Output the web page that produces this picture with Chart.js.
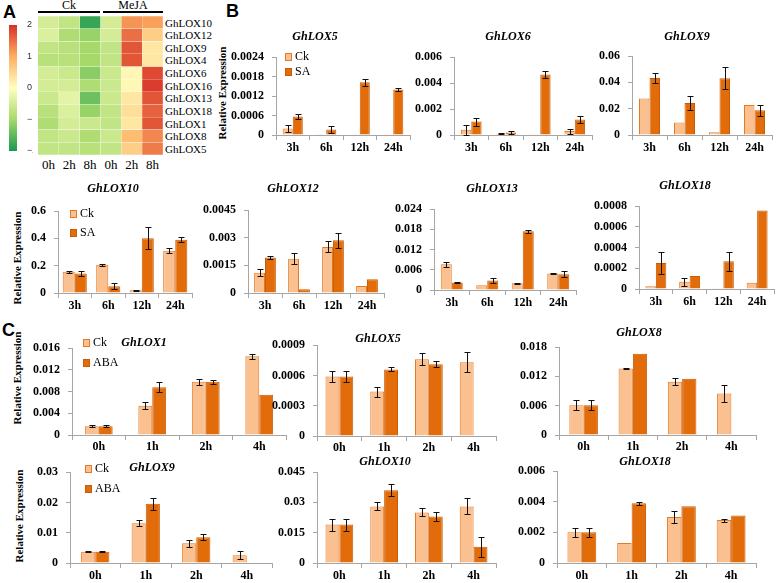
<!DOCTYPE html>
<html>
<head>
<meta charset="utf-8">
<title>GhLOX expression</title>
<script src="https://cdn.jsdelivr.net/npm/chart.js"></script>
<style>
body { margin: 0; background: #fff; }
#page { position: relative; width: 778px; height: 583px; overflow: hidden; font-family: 'Liberation Serif', 'Times New Roman', serif; color: #000; }
#page canvas { position: absolute; }
.letter { position: absolute; font-family: 'Liberation Sans', Arial, sans-serif; font-weight: bold; font-size: 18px; line-height: 18px; }
.ylab { position: absolute; font-weight: bold; font-size: 11px; white-space: nowrap; transform: translate(-50%, -50%) rotate(-90deg); }
.rowlab { position: absolute; font-size: 11px; line-height: 12px; left: 165px; }
.collab { position: absolute; font-size: 13px; transform: translateX(-50%); top: 157px; }
.grp { position: absolute; font-size: 12px; text-align: center; border-bottom: 2px solid #000; line-height: 11px; top: 0; }
</style>
</head>
<body>
<div id="page">
  <div class="letter" style="left:3px;top:3px">A</div>
  <div class="letter" style="left:226px;top:2px">B</div>
  <div class="letter" style="left:2px;top:321px">C</div>
  <div class="grp" style="left:38px;width:62px">Ck</div>
  <div class="grp" style="left:103px;width:60px">MeJA</div>
  <div class="ylab" style="left:222px;top:93px">Relative Expression</div>
  <div class="ylab" style="left:17px;top:258px">Relative Expression</div>
  <div class="ylab" style="left:17px;top:378px">Relative Expression</div>
  <div class="ylab" style="left:19px;top:516px">Relative Expression</div>
</div>
<script>
// heatmap (panel A)
const heatGenes = ['GhLOX10', 'GhLOX12', 'GhLOX9', 'GhLOX4', 'GhLOX6', 'GhLOX16', 'GhLOX13', 'GhLOX18', 'GhLOX1', 'GhLOX8', 'GhLOX5'];
const heatTimes = ['0h', '2h', '8h', '0h', '2h', '8h'];
const heatValues = [
  [-0.5, -0.7, -1.8, -0.5, 1.2, 1.1],
  [-0.4, -0.9, -1.1, -0.5, 1.5, 0.6],
  [-0.7, -0.8, -1.0, -0.7, 1.7, 0.3],
  [-0.8, -0.8, -1.0, -0.7, 1.7, 0.3],
  [-0.5, -0.6, -1.2, -0.6, 0.1, 1.8],
  [-0.5, -0.5, -0.9, -0.6, 0.1, 1.9],
  [-0.6, -0.3, -1.4, -0.6, 0.3, 1.7],
  [-0.8, -0.4, -1.1, -0.7, 0.4, 1.6],
  [-0.9, -0.5, -0.6, -0.7, 0.3, 1.7],
  [-0.7, -0.6, -0.9, -0.6, 0.8, 1.3],
  [-0.7, -0.7, -0.8, -0.7, 0.6, 1.4]
];
const colorTicks = [-2, -1, 0, 1, 2];

// panel B, SA treatment
const saTimes = ['3h', '6h', '12h', '24h'];
const sa5Ck = [0.0002, 0.00001, 0.00002, 0.00002], sa5CkErr = [0.0001, 0, 0, 0];
const sa5Sa = [0.00057, 0.00017, 0.00162, 0.0014], sa5SaErr = [0.00008, 0.00011, 0.0001, 0.00006];
const sa6Ck = [0.0004, 0.0001, 0.00002, 0.0003], sa6CkErr = [0.0004, 0.00003, 0, 0.0002];
const sa6Sa = [0.00103, 0.0002, 0.00465, 0.0012], sa6SaErr = [0.0003, 0.0001, 0.0003, 0.00025];
const sa9Ck = [0.0278, 0.0094, 0.002, 0.0228], sa9CkErr = [0, 0, 0, 0];
const sa9Sa = [0.0433, 0.0243, 0.0431, 0.0188], sa9SaErr = [0.0035, 0.005, 0.0085, 0.004];
const sa10Ck = [0.155, 0.207, 0.02, 0.31], sa10CkErr = [0.006, 0.008, 0.005, 0.018];
const sa10Sa = [0.143, 0.05, 0.4, 0.39], sa10SaErr = [0.015, 0.02, 0.08, 0.017];
const sa12Ck = [0.0011, 0.00186, 0.0025, 0.00038], sa12CkErr = [0.0002, 0.0003, 0.0003, 0];
const sa12Sa = [0.00192, 0.0002, 0.00286, 0.00074], sa12SaErr = [0.0001, 0, 0.0004, 0];
const sa13Ck = [0.0076, 0.0014, 0.002, 0.0049], sa13CkErr = [0.0008, 0, 0.0002, 0.0002];
const sa13Sa = [0.0022, 0.0028, 0.0174, 0.0047], sa13SaErr = [0.0001, 0.0007, 0.0004, 0.0008];
const sa18Ck = [0.000026, 0.00007, 0.000003, 0.00006], sa18CkErr = [0, 0.00004, 0, 0];
const sa18Sa = [0.00025, 0.000125, 0.000267, 0.000757], sa18SaErr = [0.00011, 0, 0.00009, 0];

// panel C, ABA treatment
const abaTimes = ['0h', '1h', '2h', '4h'];
const aba1Ck = [0.0016, 0.0054, 0.0098, 0.0145], aba1CkErr = [0.0002, 0.0006, 0.0005, 0.0005];
const aba1Aba = [0.0016, 0.0088, 0.0098, 0.0074], aba1AbaErr = [0.0002, 0.0009, 0.0004, 0];
const aba5Ck = [0.00059, 0.00044, 0.00076, 0.00073], aba5CkErr = [0.00005, 0.00005, 0.00006, 0.0001];
const aba5Aba = [0.00059, 0.00066, 0.00071, null], aba5AbaErr = [0.00005, 0.00002, 0.00003, 0];
const aba8Ck = [0.0061, 0.0136, 0.0109, 0.0085], aba8CkErr = [0.001, 0.0002, 0.0007, 0.0018];
const aba8Aba = [0.0061, 0.0166, 0.0115, null], aba8AbaErr = [0.001, 0, 0, 0];
const aba9Ck = [0.0037, 0.0131, 0.0065, 0.0026], aba9CkErr = [0.0001, 0.001, 0.0012, 0.0013];
const aba9Aba = [0.0037, 0.0196, 0.0085, null], aba9AbaErr = [0.0001, 0.002, 0.001, 0];
const aba10Ck = [0.019, 0.028, 0.025, 0.028], aba10CkErr = [0.003, 0.002, 0.002, 0.004];
const aba10Aba = [0.019, 0.036, 0.023, 0.008], aba10AbaErr = [0.003, 0.003, 0.002, 0.005];
const aba18Ck = [0.002, 0.0013, 0.003, 0.0028], aba18CkErr = [0.0003, 0, 0.0004, 0.0001];
const aba18Aba = [0.002, 0.0039, 0.0037, 0.0031], aba18AbaErr = [0.0003, 0.0001, 0, 0];

const CK_FILL = '#fac08f', CK_LINE = '#e57a25';
const TR_FILL = '#e36c0a', TR_LINE = '#c95c06';
const AXIS = '#a6a6a6';
const SERIF = "'Liberation Serif', 'Times New Roman', serif";

const page = document.getElementById('page');

function addCanvas(left, top, w, h) {
  const c = document.createElement('canvas');
  c.width = w; c.height = h;
  c.style.left = left + 'px'; c.style.top = top + 'px';
  c.style.width = w + 'px'; c.style.height = h + 'px';
  page.appendChild(c);
  return c;
}

function addText(cls, text, left, top) {
  const d = document.createElement('div');
  d.className = cls; d.textContent = text;
  d.style.left = left + 'px'; d.style.top = top + 'px';
  page.appendChild(d);
}

// colour scale of the heatmap
const scaleStops = [[-2, [26, 152, 80]], [-1, [166, 217, 106]], [0, [255, 255, 191]], [1, [253, 174, 97]], [2, [215, 48, 39]]];
function heatColor(v) {
  v = Math.max(-2, Math.min(2, v));
  for (let i = 0; i < scaleStops.length - 1; i++) {
    const [a, ca] = scaleStops[i], [b, cb] = scaleStops[i + 1];
    if (v <= b) {
      const t = (v - a) / (b - a);
      const c = ca.map((x, k) => Math.round(x + (cb[k] - x) * t));
      return 'rgb(' + c.join(',') + ')';
    }
  }
}

// ---- panel A heatmap: stacked horizontal bars, one cell per segment
new Chart(addCanvas(38, 16, 125, 139), {
  type: 'bar',
  data: {
    labels: heatGenes,
    datasets: heatTimes.map((t, c) => ({
      label: t,
      data: heatGenes.map(() => 1),
      backgroundColor: heatValues.map(row => heatColor(row[c])),
      borderColor: 'rgba(255,255,255,0.25)',
      borderWidth: 0.5,
      barPercentage: 1,
      categoryPercentage: 1
    }))
  },
  options: {
    indexAxis: 'y', responsive: false, animation: false,
    layout: { padding: 0 },
    plugins: { legend: { display: false }, tooltip: { enabled: false } },
    scales: {
      x: { display: false, stacked: true, min: 0, max: heatTimes.length },
      y: { display: false, stacked: true }
    }
  }
});
heatGenes.forEach((g, i) => addText('rowlab', g, 165, 16 + i * 139 / 11 + 0.5));
heatTimes.forEach((t, i) => addText('collab', t, 38 + (i + 0.5) * 125 / 6, 157));

// colour bar
new Chart(addCanvas(9, 15, 24, 146), {
  type: 'bar',
  data: {
    labels: [''],
    datasets: [{
      data: [[colorTicks[0], colorTicks[colorTicks.length - 1]]],
      barPercentage: 1, categoryPercentage: 1,
      backgroundColor: (c) => {
        const a = c.chart.chartArea;
        if (!a) return '#ffffbf';
        const g = c.chart.ctx.createLinearGradient(0, a.bottom, 0, a.top);
        scaleStops.forEach(([v, col]) => g.addColorStop((v + 2) / 4, 'rgb(' + col.join(',') + ')'));
        return g;
      }
    }]
  },
  options: {
    responsive: false, animation: false,
    layout: { padding: { top: 10, bottom: 10 } },
    plugins: { legend: { display: false }, tooltip: { enabled: false } },
    scales: {
      x: { display: false },
      y: {
        position: 'right', min: -2, max: 2,
        grid: { display: false }, border: { display: false },
        afterBuildTicks: s => { s.ticks = colorTicks.map(v => ({ value: v })); },
        ticks: { padding: 2, color: '#333', autoSkip: false, font: { family: "'Liberation Sans', Arial, sans-serif", size: 9 },
                 callback: v => String(v).replace('-', '\u2212') },
        afterFit: s => { s.width = 16; }
      }
    }
  }
});

// ---- bar chart plugins
const errorBars = {
  id: 'errorBars',
  afterDatasetsDraw(chart) {
    const ctx = chart.ctx, ys = chart.scales.y;
    ctx.save();
    ctx.strokeStyle = '#111';
    ctx.lineWidth = 1;
    chart.data.datasets.forEach((ds, i) => {
      const meta = chart.getDatasetMeta(i);
      ds.errors.forEach((e, j) => {
        const v = ds.data[j];
        if (!e || v == null) return;
        const x = Math.round(meta.data[j].x) + 0.5;
        const t = Math.round(ys.getPixelForValue(v + e)) + 0.5;
        const b = Math.round(ys.getPixelForValue(Math.max(0, v - e))) + 0.5;
        ctx.beginPath();
        ctx.moveTo(x, t); ctx.lineTo(x, b);
        ctx.moveTo(x - 3, t); ctx.lineTo(x + 3, t);
        ctx.moveTo(x - 3, b); ctx.lineTo(x + 3, b);
        ctx.stroke();
      });
    });
    ctx.restore();
  }
};

const geneTitle = {
  id: 'geneTitle',
  afterDraw(chart, args, o) {
    const ctx = chart.ctx;
    ctx.save();
    ctx.font = 'italic bold 12px ' + SERIF;
    ctx.fillStyle = '#000';
    ctx.textAlign = 'center';
    ctx.textBaseline = 'middle';
    ctx.fillText(o.text, o.x, o.y);
    ctx.restore();
  }
};

const boxLegend = {
  id: 'boxLegend',
  afterDraw(chart, args, o) {
    if (!o.show) return;
    const ctx = chart.ctx;
    ctx.save();
    ctx.font = '12px ' + SERIF;
    ctx.textBaseline = 'middle';
    chart.data.datasets.forEach((ds, i) => {
      const y = o.y + i * o.gap;
      ctx.fillStyle = ds.backgroundColor;
      ctx.fillRect(o.x, y - 4, 7, 8);
      ctx.strokeStyle = ds.borderColor;
      ctx.strokeRect(o.x + 0.5, y - 3.5, 6, 7);
      ctx.fillStyle = '#000';
      ctx.fillText(ds.label, o.x + 10, y);
    });
    ctx.restore();
  }
};

function fmt(v) {
  return v === 0 ? '0' : String(Number(v.toFixed(7)));
}

function barChart(p) {
  const b = p.box, xh = 22;
  const w = b.right - b.L + 2, h = b.zeroY + xh - b.T;
  const tickFont = { family: SERIF, size: 12, weight: 'bold' };
  new Chart(addCanvas(b.L, b.T, w, h), {
    type: 'bar',
    data: {
      labels: p.times,
      datasets: [
        { label: 'Ck', data: p.ck, errors: p.ckErr, backgroundColor: CK_FILL, borderColor: CK_LINE, borderWidth: 1 },
        { label: p.trLabel, data: p.tr, errors: p.trErr, backgroundColor: TR_FILL, borderColor: TR_LINE, borderWidth: 1 }
      ]
    },
    options: {
      responsive: false, animation: false,
      datasets: { bar: { barPercentage: 1, categoryPercentage: p.cat } },
      layout: { padding: { top: b.topY - b.T, right: 2, bottom: 0, left: 0 } },
      plugins: {
        legend: { display: false }, tooltip: { enabled: false },
        geneTitle: { text: p.title, x: p.titleAt[0] - b.L, y: p.titleAt[1] - b.T },
        boxLegend: { show: !!p.legendAt, x: p.legendAt ? p.legendAt[0] - b.L : 0, y: p.legendAt ? p.legendAt[1] - b.T : 0, gap: p.legendGap || 19 }
      },
      scales: {
        x: {
          ticks: { font: tickFont, color: '#000', padding: p.xPad == null ? 1 : p.xPad },
          grid: { drawOnChartArea: false, offset: true, tickLength: 5, color: AXIS },
          border: { color: AXIS },
          afterFit: s => { s.height = xh; }
        },
        y: {
          min: 0, max: p.yMax,
          ticks: { stepSize: p.yStep, font: tickFont, color: '#000', padding: 8, callback: fmt },
          grid: { drawOnChartArea: false, tickLength: 4, color: AXIS },
          border: { color: AXIS },
          afterFit: s => { s.width = b.axisX - b.L; }
        }
      }
    },
    plugins: [errorBars, geneTitle, boxLegend]
  });
}

const panels = [
  { title: 'GhLOX5', times: saTimes, ck: sa5Ck, ckErr: sa5CkErr, tr: sa5Sa, trErr: sa5SaErr, trLabel: 'SA', yMax: 0.0024, yStep: 0.0006, cat: 0.6,
    box: { L: 226, axisX: 276, T: 28, topY: 57, zeroY: 135, right: 410 }, titleAt: [315, 37], legendAt: [285, 57], legendGap: 15 },
  { title: 'GhLOX6', times: saTimes, ck: sa6Ck, ckErr: sa6CkErr, tr: sa6Sa, trErr: sa6SaErr, trLabel: 'SA', yMax: 0.006, yStep: 0.002, cat: 0.6,
    box: { L: 410, axisX: 454, T: 28, topY: 57, zeroY: 135, right: 592 }, titleAt: [508, 37] },
  { title: 'GhLOX9', times: saTimes, ck: sa9Ck, ckErr: sa9CkErr, tr: sa9Sa, trErr: sa9SaErr, trLabel: 'SA', yMax: 0.06, yStep: 0.02, cat: 0.6,
    box: { L: 596, axisX: 632, T: 28, topY: 56, zeroY: 135, right: 772 }, titleAt: [687, 37] },
  { title: 'GhLOX10', times: saTimes, ck: sa10Ck, ckErr: sa10CkErr, tr: sa10Sa, trErr: sa10SaErr, trLabel: 'SA', yMax: 0.6, yStep: 0.2, cat: 0.72,
    box: { L: 25, axisX: 58, T: 178, topY: 211, zeroY: 293, right: 192 }, titleAt: [113, 189], legendAt: [70, 214], legendGap: 19 },
  { title: 'GhLOX12', times: saTimes, ck: sa12Ck, ckErr: sa12CkErr, tr: sa12Sa, trErr: sa12SaErr, trLabel: 'SA', yMax: 0.0045, yStep: 0.0015, cat: 0.64,
    box: { L: 196, axisX: 248, T: 178, topY: 210, zeroY: 293, right: 384 }, titleAt: [293, 189] },
  { title: 'GhLOX13', times: saTimes, ck: sa13Ck, ckErr: sa13CkErr, tr: sa13Sa, trErr: sa13SaErr, trLabel: 'SA', yMax: 0.024, yStep: 0.006, cat: 0.62,
    box: { L: 388, axisX: 434, T: 178, topY: 209, zeroY: 290, right: 576 }, titleAt: [492, 189] },
  { title: 'GhLOX18', times: saTimes, ck: sa18Ck, ckErr: sa18CkErr, tr: sa18Sa, trErr: sa18SaErr, trLabel: 'SA', yMax: 0.0008, yStep: 0.0002, cat: 0.62,
    box: { L: 588, axisX: 639, T: 175, topY: 206, zeroY: 289, right: 774 }, titleAt: [685, 186] },
  { title: 'GhLOX1', times: abaTimes, ck: aba1Ck, ckErr: aba1CkErr, tr: aba1Aba, trErr: aba1AbaErr, trLabel: 'ABA', yMax: 0.016, yStep: 0.004, cat: 0.52,
    box: { L: 26, axisX: 72, T: 333, topY: 343, zeroY: 435, right: 286 }, titleAt: [144, 343], legendAt: [83, 343], legendGap: 20, xPad: 0 },
  { title: 'GhLOX5', times: abaTimes, ck: aba5Ck, ckErr: aba5CkErr, tr: aba5Aba, trErr: aba5AbaErr, trLabel: 'ABA', yMax: 0.0009, yStep: 0.0003, cat: 0.62,
    box: { L: 270, axisX: 317, T: 330, topY: 345, zeroY: 436, right: 496 }, titleAt: [378, 339], xPad: 0 },
  { title: 'GhLOX8', times: abaTimes, ck: aba8Ck, ckErr: aba8CkErr, tr: aba8Aba, trErr: aba8AbaErr, trLabel: 'ABA', yMax: 0.018, yStep: 0.006, cat: 0.58,
    box: { L: 515, axisX: 559, T: 325, topY: 347, zeroY: 435, right: 756 }, titleAt: [639, 333], xPad: 0 },
  { title: 'GhLOX9', times: abaTimes, ck: aba9Ck, ckErr: aba9CkErr, tr: aba9Aba, trErr: aba9AbaErr, trLabel: 'ABA', yMax: 0.03, yStep: 0.01, cat: 0.56,
    box: { L: 26, axisX: 70, T: 457, topY: 467, zeroY: 563, right: 272 }, titleAt: [152, 468], legendAt: [85, 469], legendGap: 20 },
  { title: 'GhLOX10', times: abaTimes, ck: aba10Ck, ckErr: aba10CkErr, tr: aba10Aba, trErr: aba10AbaErr, trLabel: 'ABA', yMax: 0.045, yStep: 0.015, cat: 0.62,
    box: { L: 270, axisX: 317, T: 452, topY: 472, zeroY: 563, right: 496 }, titleAt: [385, 462] },
  { title: 'GhLOX18', times: abaTimes, ck: aba18Ck, ckErr: aba18CkErr, tr: aba18Aba, trErr: aba18AbaErr, trLabel: 'ABA', yMax: 0.006, yStep: 0.002, cat: 0.58,
    box: { L: 515, axisX: 557, T: 452, topY: 471, zeroY: 563, right: 756 }, titleAt: [645, 462] }
];

panels.forEach(barChart);
</script>
</body>
</html>
